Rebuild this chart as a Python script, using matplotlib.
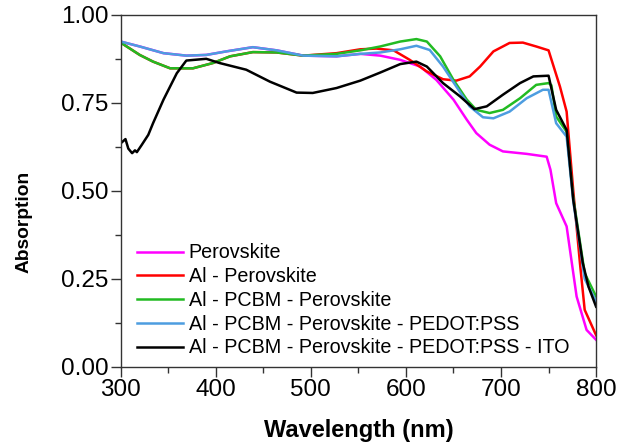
import matplotlib
matplotlib.use("Agg")
import matplotlib.pyplot as plt
from matplotlib.ticker import MultipleLocator, FormatStrFormatter

plt.rcParams['font.family'] = ['Liberation Sans', 'DejaVu Sans']

# ---- data (wavelength nm, absorption) ----
wl_perov = [300, 320, 345, 369, 390, 411, 439, 464, 492, 527, 552, 573, 594, 615, 632, 650, 664, 674, 688, 702, 727, 748, 752, 758, 769, 779.5, 790, 800]
ab_perov = [0.924, 0.910, 0.891, 0.884, 0.886, 0.896, 0.908, 0.899, 0.884, 0.882, 0.889, 0.884, 0.872, 0.853, 0.815, 0.759, 0.702, 0.664, 0.631, 0.612, 0.605, 0.597, 0.560, 0.465, 0.399, 0.200, 0.105, 0.077]

wl_al = [300, 320, 334, 352, 376, 397, 415, 439, 464, 492, 527, 552, 569, 587, 604, 622, 639, 653, 667, 678, 692, 709, 723, 737, 750, 762, 769, 776, 783, 788, 800]
ab_al = [0.921, 0.886, 0.867, 0.848, 0.848, 0.863, 0.882, 0.894, 0.893, 0.884, 0.891, 0.902, 0.904, 0.899, 0.872, 0.839, 0.817, 0.813, 0.825, 0.853, 0.896, 0.920, 0.921, 0.910, 0.899, 0.796, 0.725, 0.50, 0.295, 0.162, 0.09]

wl_pcbm = [300, 320, 334, 352, 376, 397, 415, 439, 464, 492, 527, 552, 573, 594, 611, 622, 636, 650, 664, 674, 688, 702, 720, 737, 750, 753, 758, 769, 776, 788, 800]
ab_pcbm = [0.921, 0.886, 0.867, 0.848, 0.848, 0.863, 0.882, 0.894, 0.893, 0.884, 0.889, 0.899, 0.910, 0.924, 0.931, 0.924, 0.882, 0.815, 0.759, 0.730, 0.721, 0.730, 0.763, 0.801, 0.806, 0.800, 0.711, 0.668, 0.480, 0.266, 0.20]

wl_pedot = [300, 320, 345, 369, 390, 411, 439, 464, 492, 527, 552, 573, 594, 611, 625, 639, 653, 667, 681, 692, 709, 727, 744, 750, 758, 769, 776, 788, 800]
ab_pedot = [0.924, 0.910, 0.891, 0.884, 0.886, 0.896, 0.908, 0.899, 0.884, 0.882, 0.889, 0.893, 0.902, 0.912, 0.900, 0.853, 0.796, 0.740, 0.709, 0.706, 0.725, 0.763, 0.787, 0.787, 0.692, 0.654, 0.470, 0.250, 0.186]

wl_ito = [300, 305, 308, 312, 315, 317, 322, 329, 334, 345, 359, 369, 390, 404, 432, 457, 485, 502, 527, 552, 573, 594, 611, 622, 639, 657, 672, 685, 702, 720, 734, 750, 758, 769, 776, 786, 792, 800]
ab_ito = [0.635, 0.647, 0.620, 0.607, 0.615, 0.610, 0.630, 0.659, 0.692, 0.759, 0.834, 0.870, 0.875, 0.863, 0.844, 0.810, 0.779, 0.778, 0.792, 0.813, 0.836, 0.860, 0.867, 0.853, 0.806, 0.768, 0.732, 0.740, 0.773, 0.806, 0.825, 0.827, 0.730, 0.673, 0.474, 0.295, 0.228, 0.171]

labels = ["Perovskite", "Al - Perovskite", "Al - PCBM - Perovskite",
          "Al - PCBM - Perovskite - PEDOT:PSS",
          "Al - PCBM - Perovskite - PEDOT:PSS - ITO"]
colors = ["#ff00ff", "#ff0000", "#22bb22", "#4d9de0", "#000000"]

fig = plt.figure(figsize=(6.19, 4.48), dpi=100)
ax = fig.add_axes([0.195, 0.181, 0.768, 0.786])

series = [(wl_perov, ab_perov), (wl_al, ab_al), (wl_pcbm, ab_pcbm), (wl_pedot, ab_pedot), (wl_ito, ab_ito)]
for (x, y), lab, c in zip(series, labels, colors):
    ax.plot(x, y, color=c, lw=1.8, label=lab, solid_joinstyle='round')

ax.set_xlim(300, 800)
ax.set_ylim(0, 1.0)
ax.xaxis.set_major_locator(MultipleLocator(100))
ax.xaxis.set_minor_locator(MultipleLocator(50))
ax.yaxis.set_major_locator(MultipleLocator(0.25))
ax.yaxis.set_minor_locator(MultipleLocator(0.125))
ax.yaxis.set_major_formatter(FormatStrFormatter('%.2f'))
ax.tick_params(which='both', direction='out', top=False, right=False, labelsize=17.5, color='#333333')
ax.tick_params(which='major', length=7, width=1)
ax.tick_params(which='minor', length=4, width=1)
ax.tick_params(axis='x', pad=2)
ax.tick_params(axis='y', pad=2)
for s in ax.spines.values():
    s.set_linewidth(1.0)
    s.set_color('#333333')

ax.set_xlabel("Wavelength (nm)", fontsize=17, fontweight='bold', labelpad=13)
ax.set_ylabel("Absorption", fontsize=13.8, fontweight='bold')
ax.yaxis.set_label_coords(-0.185, 0.412)

ax.legend(loc='lower left', bbox_to_anchor=(0.035, 0.027), frameon=False, fontsize=14.2,
          handlelength=2.3, handletextpad=0.3, labelspacing=0.24, borderaxespad=0.0, borderpad=0.0)

fig.savefig("out.png", dpi=100)
